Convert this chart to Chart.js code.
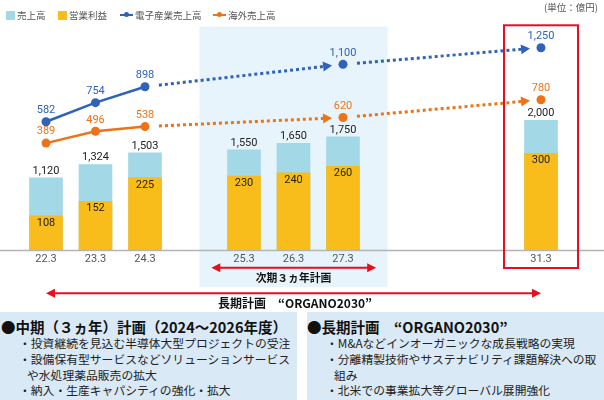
<!DOCTYPE html>
<html><head><meta charset="utf-8">
<script src="https://cdn.jsdelivr.net/npm/chart.js@4.4.1/dist/chart.umd.min.js"></script>
<style>
body{margin:0;background:#fff;}
#wrap{position:relative;width:604px;height:400px;overflow:hidden;font-family:"Noto Sans CJK JP","Noto Sans",sans-serif;}
#c{position:absolute;left:0;top:0;}
.lg{position:absolute;top:8px;height:14px;font-size:9.5px;color:#555;line-height:14px;white-space:nowrap;}
.sq{position:absolute;top:10.5px;width:9px;height:9px;}
.ln{position:absolute;top:14px;height:2px;width:13px;}
.ln i{position:absolute;left:4px;top:-2px;width:5px;height:5px;border-radius:50%;}
.unit{position:absolute;top:1px;right:6px;font-size:9.5px;color:#555;line-height:13px;}
.box{position:absolute;top:312px;height:88px;background:#d9e9f6;}
.box .t{font-weight:bold;font-size:14.5px;line-height:17px;padding-top:6px;white-space:nowrap;color:#111;}
.box .b{font-size:11.8px;line-height:15.8px;white-space:nowrap;color:#222;}
</style></head>
<body><div id="wrap">
<canvas id="c" width="604" height="400"></canvas>
<div id="legend"></div>
<div class="unit">(単位：億円)</div>
<div class="box" style="left:0;width:297px;">
  <div class="t" style="padding-left:1px;">●中期（３ヵ年）計画（2024～2026年度）</div>
  <div style="padding-left:19px;margin-top:0px;">
    <div class="b">・投資継続を見込む半導体大型プロジェクトの受注</div>
    <div class="b">・設備保有型サービスなどソリューションサービス</div>
    <div class="b" style="padding-left:8px;">や水処理薬品販売の拡大</div>
    <div class="b">・納入・生産キャパシティの強化・拡大</div>
  </div>
</div>
<div class="box" style="left:307px;width:297px;">
  <div class="t" style="padding-left:0px;">●長期計画　“ORGANO2030”</div>
  <div style="padding-left:19px;">
    <div class="b">・M&amp;Aなどインオーガニックな成長戦略の実現</div>
    <div class="b">・分離精製技術やサステナビリティ課題解決への取</div>
    <div class="b" style="padding-left:8px;">組み</div>
    <div class="b">・北米での事業拡大等グローバル展開強化</div>
  </div>
</div>
</div>
<script>
const categories = ['22.3','23.3','24.3','','25.3','26.3','27.3','','','','31.3'];
const salesValues = [1120,1324,1503,null,1550,1650,1750,null,null,null,2000];
const profitValues = [108,152,225,null,230,240,260,null,null,null,300];
const electronicsSales = [582,754,898,null,null,null,1100,null,null,null,1250];
const overseasSales = [389,496,538,null,null,null,620,null,null,null,780];
const seriesNames = ['売上高','営業利益','電子産業売上高','海外売上高'];
const midTermLabel = '次期３ヵ年計画';
const longTermLabel = '長期計画　“ORGANO2030”';

const C_SALES = '#a3d8e6', C_PROFIT = '#f8bd1b', C_BLUE = '#2f62b8', C_ORANGE = '#ef7316', C_RED = '#e60f1e';

// legend (HTML)
(function(){
  const lg = document.getElementById('legend');
  const items = [
    {x:6, kind:'sq', color:C_SALES},
    {x:58, kind:'sq', color:C_PROFIT},
    {x:120, kind:'ln', color:C_BLUE},
    {x:213, kind:'ln', color:C_ORANGE}
  ];
  items.forEach((it,i)=>{
    const m = document.createElement('span');
    m.className = it.kind;
    m.style.left = it.x+'px';
    m.style.background = it.color;
    if(it.kind==='ln'){ const d=document.createElement('i'); d.style.background=it.color; m.appendChild(d); }
    lg.appendChild(m);
    const t = document.createElement('span');
    t.className='lg';
    t.style.left = (it.x + (it.kind==='sq'?11:15))+'px';
    t.textContent = seriesNames[i];
    lg.appendChild(t);
  });
})();

const fmt = v => v.toLocaleString('en-US');
const NUMFONT = '"Roboto","Noto Sans",sans-serif';
const JPFONT = '"Noto Sans CJK JP","Noto Sans",sans-serif';

const decor = {
  id:'decor',
  beforeDraw(chart){
    const {ctx, chartArea:a, scales:{x}} = chart;
    const slot = x.getPixelForValue(1) - x.getPixelForValue(0);
    ctx.save();
    ctx.fillStyle = '#e8f4fc';
    const l = x.getPixelForValue(3) + slot*0.1, r = x.getPixelForValue(7) - slot*0.1;
    ctx.fillRect(l, a.top + 6.5, r - l, a.bottom + 36.5 - (a.top + 6.5));
    ctx.restore();
  },
  afterDatasetsDraw(chart){
    const {ctx, chartArea:a, scales:{x}} = chart;
    const slot = x.getPixelForValue(1) - x.getPixelForValue(0);
    ctx.save();
    // baseline
    ctx.strokeStyle = '#b4b4b4'; ctx.lineWidth = 1.5;
    ctx.beginPath(); ctx.moveTo(0, a.bottom); ctx.lineTo(chart.width, a.bottom); ctx.stroke();

    // dotted arrows for plan lines
    [0,1].forEach(di=>{
      const meta = chart.getDatasetMeta(di);
      const color = chart.data.datasets[di].borderColor;
      const pts = meta.data.filter((p,i)=>chart.data.datasets[di].data[i]!=null).map((p,k)=>p);
      const idx = chart.data.datasets[di].data.map((v,i)=>v!=null?i:-1).filter(i=>i>=0);
      for(let k=0;k<pts.length-1;k++){
        if(idx[k] < 2) continue;
        const p0 = pts[k], p1 = pts[k+1];
        const dx = p1.x-p0.x, dy = p1.y-p0.y, len = Math.hypot(dx,dy);
        const ux = dx/len, uy = dy/len;
        const sx = p0.x+ux*14, sy = p0.y+uy*14;
        const tx = p1.x-ux*11, ty = p1.y-uy*11;
        const bx = tx-ux*9, by = ty-uy*9;
        ctx.strokeStyle = color; ctx.lineWidth = 3; ctx.setLineDash([3,3]);
        ctx.beginPath(); ctx.moveTo(sx,sy); ctx.lineTo(bx,by); ctx.stroke();
        ctx.setLineDash([]);
        ctx.fillStyle = color;
        ctx.beginPath();
        ctx.moveTo(tx,ty);
        ctx.lineTo(bx - uy*5, by + ux*5);
        ctx.lineTo(bx + uy*5, by - ux*5);
        ctx.closePath(); ctx.fill();
      }
    });

    // red box around final target
    const xf = x.getPixelForValue(10);
    ctx.strokeStyle = C_RED; ctx.lineWidth = 2;
    ctx.strokeRect(xf-37, a.top+5.3, 74, a.bottom + 17.5 - (a.top+5.3));

    // red double arrows
    function dArrow(x1, x2, y){
      ctx.strokeStyle = C_RED; ctx.fillStyle = C_RED; ctx.lineWidth = 2;
      ctx.beginPath(); ctx.moveTo(x1+6,y); ctx.lineTo(x2-6,y); ctx.stroke();
      ctx.beginPath(); ctx.moveTo(x1,y); ctx.lineTo(x1+9,y-4.5); ctx.lineTo(x1+9,y+4.5); ctx.closePath(); ctx.fill();
      ctx.beginPath(); ctx.moveTo(x2,y); ctx.lineTo(x2-9,y-4.5); ctx.lineTo(x2-9,y+4.5); ctx.closePath(); ctx.fill();
    }
    dArrow(x.getPixelForValue(3)+slot*0.34, x.getPixelForValue(7)-slot*0.33, a.bottom+17.2);
    dArrow(x.getPixelForValue(0), x.getPixelForValue(10), a.bottom+42.8);
    ctx.fillStyle = '#111'; ctx.textAlign='center'; ctx.textBaseline='middle';
    ctx.font = 'bold 10.8px '+JPFONT;
    ctx.fillText(midTermLabel, x.getPixelForValue(5), a.bottom+27);
    ctx.font = 'bold 12px '+JPFONT;
    ctx.fillText(longTermLabel, x.getPixelForValue(5)+1.5, a.bottom+52.5);

    // value labels
    ctx.font = '11px '+NUMFONT;
    chart.getDatasetMeta(3).data.forEach((b,i)=>{
      const v = chart.data.datasets[3].data[i]; if(v==null) return;
      ctx.fillStyle = '#222'; ctx.fillText(fmt(v), b.x, b.y-6.5);
    });
    chart.getDatasetMeta(2).data.forEach((b,i)=>{
      const v = chart.data.datasets[2].data[i]; if(v==null) return;
      ctx.fillStyle = '#222'; ctx.fillText(fmt(v), b.x, b.y+7.5);
    });
    [0,1].forEach(di=>{
      const ds = chart.data.datasets[di];
      chart.getDatasetMeta(di).data.forEach((p,i)=>{
        const v = ds.data[i]; if(v==null) return;
        ctx.fillStyle = ds.borderColor; ctx.fillText(fmt(v), p.x, p.y-11.5);
      });
    });
    ctx.restore();
  }
};

const lineSeg = color => ({ borderColor: c => c.p0DataIndex >= 2 ? 'rgba(0,0,0,0)' : color });

new Chart(document.getElementById('c'), {
  data: {
    labels: categories,
    datasets: [
      { type:'line', label:seriesNames[2], data:electronicsSales, yAxisID:'yL', borderColor:C_BLUE, backgroundColor:C_BLUE,
        borderWidth:2.5, pointRadius:4.5, pointBackgroundColor:C_BLUE, pointBorderWidth:0, spanGaps:true, segment:lineSeg(C_BLUE), order:0 },
      { type:'line', label:seriesNames[3], data:overseasSales, yAxisID:'yL', borderColor:C_ORANGE, backgroundColor:C_ORANGE,
        borderWidth:2.5, pointRadius:4.5, pointBackgroundColor:C_ORANGE, pointBorderWidth:0, spanGaps:true, segment:lineSeg(C_ORANGE), order:1 },
      { type:'bar', label:seriesNames[1], data:profitValues, yAxisID:'yP', backgroundColor:C_PROFIT, grouped:false,
        barPercentage:0.68, categoryPercentage:1, order:2 },
      { type:'bar', label:seriesNames[0], data:salesValues, yAxisID:'yS', backgroundColor:C_SALES, grouped:false,
        barPercentage:0.68, categoryPercentage:1, order:3 }
    ]
  },
  options: {
    responsive:false, animation:false,
    layout:{ padding:{ left:21.25, right:38.25, top:20, bottom:129.5 } },
    plugins:{ legend:{display:false}, tooltip:{enabled:false} },
    scales:{
      x:{ type:'category', offset:true, grid:{display:false, drawTicks:false}, border:{display:false},
          ticks:{ color:'#555', font:{size:11, family:NUMFONT}, padding:2, maxRotation:0, autoSkip:false },
          afterFit: s => { s.height = 20; } },
      yS:{ display:false, min:0, max:3535 },
      yP:{ display:false, min:0, max:709 },
      yL:{ display:false, min:-580, max:1500 }
    }
  },
  plugins:[decor]
});
</script>
</body></html>
